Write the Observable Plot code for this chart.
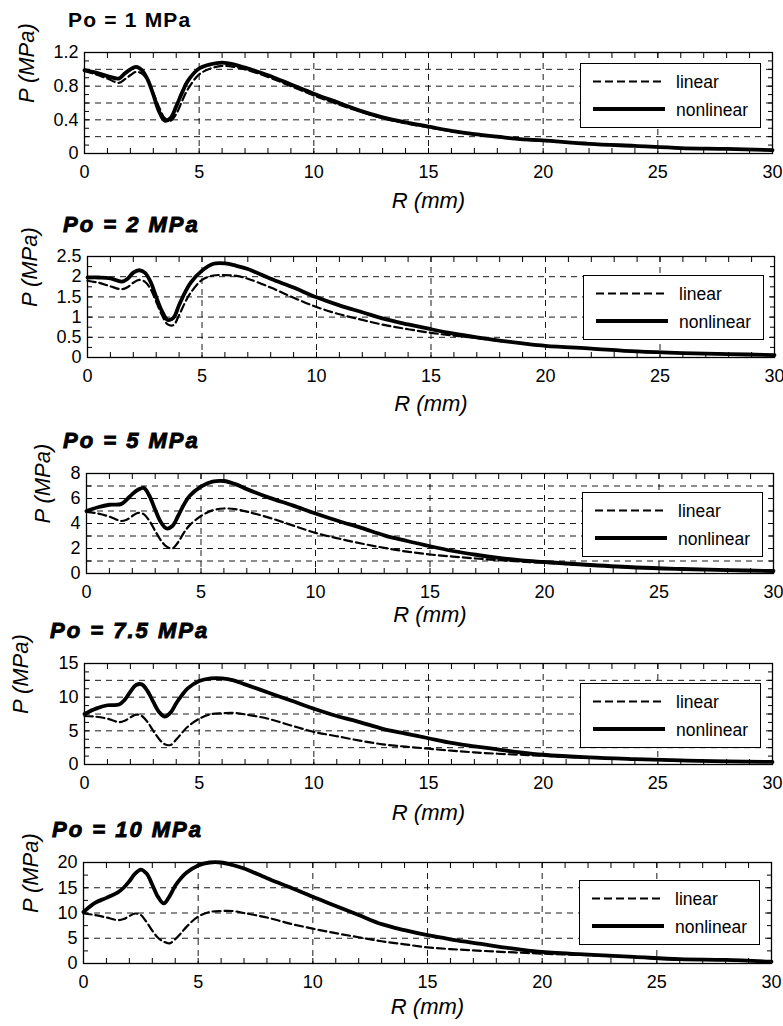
<!DOCTYPE html>
<html><head><meta charset="utf-8">
<script src="https://cdn.jsdelivr.net/npm/d3@7"></script>
<script src="https://cdn.jsdelivr.net/npm/@observablehq/plot@0.6"></script>
<style>
body{margin:0;background:#fff;font-family:"Liberation Sans",Arial,sans-serif;}
#root{position:relative;width:783px;height:1026px;overflow:hidden;background:#fff;}
.title{position:absolute;font-weight:bold;white-space:nowrap;line-height:1;color:#000;}
.legend{position:absolute;}
</style></head><body><div id="root"></div>
<script>
// ---------- data ----------
const radius = [0, 0.5, 1, 1.5, 1.75, 2, 2.25, 2.5, 2.75, 3, 3.25, 3.5, 3.75, 4, 4.25, 4.5, 5, 5.5, 6, 6.5, 7, 8, 9, 10, 11, 12, 13, 14, 15, 16, 17, 18, 19, 20, 22, 24, 26, 28, 30];

const linear1 = [0.98,0.94,0.89,0.84,0.88,0.93,0.97,0.95,0.87,0.72,0.55,0.42,0.39,0.47,0.62,0.76,0.94,1.01,1.04,1.03,1.00,0.91,0.80,0.69,0.59,0.50,0.42,0.36,0.31,0.265,0.225,0.195,0.17,0.15,0.115,0.09,0.065,0.055,0.04];
const nonlinear1 = [0.99,0.96,0.92,0.89,0.95,1.00,1.03,0.99,0.88,0.70,0.50,0.39,0.42,0.56,0.72,0.86,1.01,1.06,1.08,1.06,1.02,0.93,0.82,0.71,0.61,0.51,0.43,0.37,0.32,0.27,0.23,0.20,0.17,0.155,0.115,0.09,0.065,0.055,0.04];

const linear2 = [1.90,1.85,1.76,1.69,1.74,1.85,1.92,1.88,1.70,1.38,1.05,0.82,0.80,1.05,1.35,1.60,1.92,2.03,2.04,2.02,1.95,1.73,1.48,1.25,1.07,0.93,0.80,0.70,0.61,0.54,0.48,0.41,0.35,0.29,0.22,0.15,0.11,0.085,0.06];
const nonlinear2 = [1.98,1.98,1.96,1.88,1.95,2.10,2.16,2.10,1.88,1.50,1.15,0.93,0.98,1.30,1.60,1.85,2.15,2.32,2.33,2.27,2.19,1.95,1.73,1.49,1.29,1.12,0.95,0.82,0.70,0.59,0.50,0.42,0.35,0.29,0.22,0.15,0.11,0.085,0.06];

const linear3 = [4.93,4.80,4.55,4.20,4.30,4.60,4.85,4.75,4.20,3.40,2.65,2.15,2.00,2.50,3.25,3.85,4.60,5.05,5.20,5.15,4.95,4.45,3.85,3.25,2.80,2.40,2.05,1.75,1.52,1.35,1.20,1.07,0.95,0.85,0.65,0.47,0.35,0.27,0.20];
const nonlinear3 = [5.00,5.30,5.50,5.55,5.90,6.35,6.70,6.85,6.20,5.10,4.10,3.60,3.80,4.60,5.50,6.20,6.95,7.35,7.40,7.15,6.75,6.05,5.45,4.80,4.20,3.65,3.05,2.60,2.18,1.80,1.50,1.25,1.05,0.92,0.68,0.48,0.36,0.27,0.20];

const linear4 = [7.2,7.1,6.8,6.3,6.5,7.0,7.4,7.2,6.3,5.0,3.8,3.0,2.9,3.7,4.7,5.6,6.8,7.45,7.6,7.65,7.45,6.8,5.8,4.85,4.2,3.55,3.0,2.65,2.35,2.05,1.8,1.6,1.45,1.3,1.0,0.78,0.6,0.45,0.38];
const nonlinear4 = [7.5,8.3,8.8,8.9,9.6,10.8,11.8,11.9,10.9,9.3,7.8,7.1,7.7,9.1,10.3,11.3,12.4,12.8,12.8,12.5,11.9,10.7,9.5,8.3,7.2,6.3,5.3,4.6,3.9,3.2,2.7,2.25,1.8,1.45,1.05,0.8,0.6,0.45,0.38];

const linear5 = [9.9,9.6,9.1,8.6,8.8,9.4,9.9,9.6,8.2,6.5,5.1,4.3,4.0,4.8,6.0,7.3,9.3,10.2,10.4,10.4,10.0,9.1,7.9,6.9,6.0,5.2,4.4,3.8,3.2,2.85,2.6,2.35,2.15,1.95,1.65,1.3,0.85,0.7,0.35];
const nonlinear5 = [10.2,12.0,13.0,14.1,15.0,16.3,17.8,18.6,17.8,15.6,13.2,11.9,13.3,15.4,16.9,18.0,19.4,20.0,20.0,19.5,18.8,16.9,15.1,13.2,11.4,9.6,7.8,6.6,5.6,4.8,4.1,3.4,2.8,2.3,1.75,1.3,0.85,0.7,0.35];

const panelTitles = ["Po = 1 MPa", "Po = 2 MPa", "Po = 5 MPa", "Po = 7.5 MPa", "Po = 10 MPa"];
const yMaxValues = [1.2, 2.5, 8, 15, 20];
const yTickLabels = [[0, 0.4, 0.8, 1.2], [0, 0.5, 1, 1.5, 2, 2.5], [0, 2, 4, 6, 8], [0, 5, 10, 15], [0, 5, 10, 15, 20]];
const yGridSteps = [0.2, 0.5, 1, 2.5, 5];
const yMinorSteps = [0.1, 0.25, 1, 1.25, 2.5];
const xTickLabels = [0, 5, 10, 15, 20, 25, 30];
const xGridValues = [5, 10, 15, 20, 25];
const seriesNames = ["linear", "nonlinear"];
const xLabel = "R (mm)";
const yLabel = "P (MPa)";

// ---------- layout ----------
const linearSeries = [linear1, linear2, linear3, linear4, linear5];
const nonlinearSeries = [nonlinear1, nonlinear2, nonlinear3, nonlinear4, nonlinear5];
const frames = [
  {left: 84, right: 772, top: 52, bottom: 153},
  {left: 87, right: 774, top: 256, bottom: 357},
  {left: 86, right: 773, top: 473, bottom: 573},
  {left: 84, right: 772, top: 663, bottom: 764},
  {left: 83, right: 771, top: 862, bottom: 963}
];
const titlePos = [{x: 68, base: 27}, {x: 63, base: 233}, {x: 63, base: 449}, {x: 50, base: 639}, {x: 52, base: 838}];
const xLabelOffset = [47, 46, 41, 48, 43];
const yLabelCenter = [26, 29, 42, 20, 30];
const legendTop = [11, 19, 19, 20, 18];
const legendRight = [11, 10, 10, 11, 11];

const root = document.getElementById("root");
const FONT = "'Liberation Sans', Arial, sans-serif";
const W = 783;
const fmt = d => String(d);

frames.forEach((f, i) => {
  const mt = 10, mb = 66;
  const ymax = yMaxValues[i];
  const lin = radius.map((r, j) => ({r, p: linearSeries[i][j]}));
  const non = radius.map((r, j) => ({r, p: nonlinearSeries[i][j]}));
  const grid = d3.range(1, Math.round(ymax / yGridSteps[i])).map(k => k * yGridSteps[i]);
  const minor = d3.range(0, Math.round(ymax / yMinorSteps[i]) + 1).map(k => k * yMinorSteps[i]);
  const xMinor = d3.range(0, 31, 1);
  const gridStyle = {stroke: "#000", strokeWidth: 0.9, strokeDasharray: "6,5"};

  const svg = Plot.plot({
    width: W,
    height: (f.bottom - f.top) + mt + mb,
    marginLeft: f.left, marginRight: W - f.right, marginTop: mt, marginBottom: mb,
    x: {domain: [0, 30]},
    y: {domain: [0, ymax]},
    style: {background: "transparent", overflow: "visible", fontFamily: FONT, fontSize: "18px", color: "#000"},
    marks: [
      Plot.ruleY(grid, gridStyle),
      Plot.ruleX(xGridValues, gridStyle),
      Plot.line(lin, {x: "r", y: "p", stroke: "#000", strokeWidth: 2.2, strokeDasharray: "8,4", curve: "catmull-rom"}),
      Plot.line(non, {x: "r", y: "p", stroke: "#000", strokeWidth: 3.8, curve: "catmull-rom"}),
      Plot.frame({stroke: "#000", strokeWidth: 1.3}),
      // inward ticks on all four sides
      Plot.axisX(xMinor, {anchor: "bottom", tickSize: 5, dy: -5, text: null, label: null}),
      Plot.axisX(xMinor, {anchor: "top", tickSize: 5, dy: 5, text: null, label: null}),
      Plot.axisY(minor, {anchor: "left", tickSize: 5, dx: 5, text: null, label: null}),
      Plot.axisY(minor, {anchor: "right", tickSize: 5, dx: -5, text: null, label: null}),
      // tick labels
      Plot.axisX(xTickLabels, {anchor: "bottom", tickSize: 0, tickPadding: 12, fontSize: 18, tickFormat: fmt, label: null}),
      Plot.axisY(yTickLabels[i], {anchor: "left", tickSize: 0, tickPadding: 6, fontSize: 18, tickFormat: fmt, label: null}),
      // axis titles
      Plot.text([xLabel], {text: d => d, frameAnchor: "bottom", lineAnchor: "middle", dy: xLabelOffset[i], fontSize: 22, fontStyle: "italic", fill: "#000"}),
      Plot.text([yLabel], {text: d => d, frameAnchor: "left", lineAnchor: "middle", rotate: -90, dx: yLabelCenter[i] - f.left, fontSize: 22, fontStyle: "italic", fill: "#000"})
    ]
  });
  svg.style.position = "absolute";
  svg.style.left = "0px";
  svg.style.top = (f.top - mt) + "px";
  root.appendChild(svg);

  // title
  const t = document.createElement("div");
  t.className = "title";
  t.textContent = panelTitles[i];
  const fs = i === 0 ? 21 : 22;
  t.style.fontSize = fs + "px";
  t.style.left = titlePos[i].x + "px";
  t.style.top = (titlePos[i].base - fs * 0.8465) + "px";
  if (i === 0) {
    t.style.letterSpacing = "1.2px";
  } else {
    t.style.fontStyle = "italic";
    t.style.letterSpacing = "2px";
    t.style.webkitTextStroke = "0.9px #000";
  }
  root.appendChild(t);

  // legend
  const lw = 181, lh = 65;
  const lg = document.createElementNS("http://www.w3.org/2000/svg", "svg");
  lg.setAttribute("width", lw);
  lg.setAttribute("height", lh);
  lg.setAttribute("class", "legend");
  lg.style.left = (f.right - legendRight[i] - lw) + "px";
  lg.style.top = (f.top + legendTop[i]) + "px";
  lg.innerHTML =
    `<rect x="0.5" y="0.5" width="${lw - 1}" height="${lh - 1}" fill="#fff" stroke="#000" stroke-width="1"/>` +
    `<line x1="13" x2="85" y1="18.5" y2="18.5" stroke="#000" stroke-width="2.2" stroke-dasharray="8,4"/>` +
    `<text x="96" y="25" font-family="${FONT}" font-size="17.5" fill="#000">${seriesNames[0]}</text>` +
    `<line x1="13" x2="85" y1="46" y2="46" stroke="#000" stroke-width="3.8"/>` +
    `<text x="96" y="53" font-family="${FONT}" font-size="17.5" fill="#000">${seriesNames[1]}</text>`;
  root.appendChild(lg);
});
</script></body></html>
